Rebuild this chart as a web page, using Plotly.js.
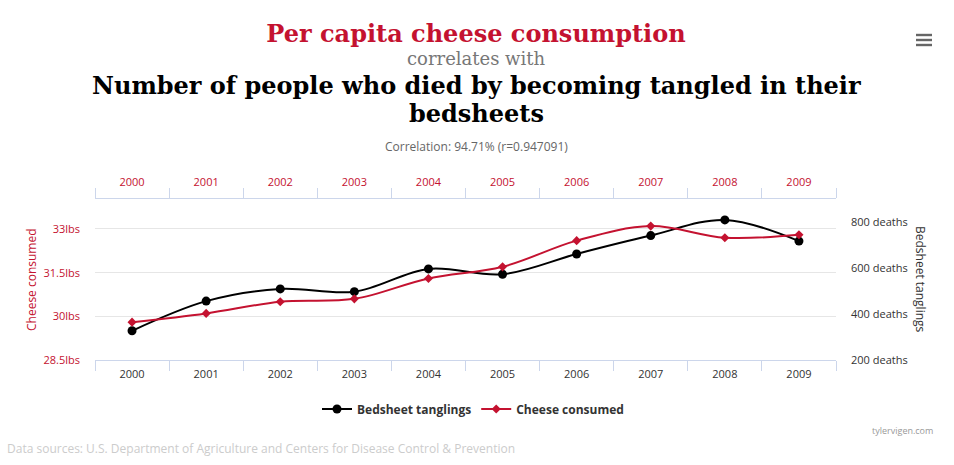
<!DOCTYPE html>
<html>
<head>
<meta charset="utf-8">
<script src="https://cdn.plot.ly/plotly-3.0.1.min.js"></script>
<style>
html,body{margin:0;padding:0;background:#ffffff;}
#chart{width:954px;height:465px;}
</style>
</head>
<body>
<div id="chart"></div>
<script>
var years = ["2000","2001","2002","2003","2004","2005","2006","2007","2008","2009"];
var bedsheetDeaths = [327, 456, 509, 497, 596, 573, 661, 741, 809, 717];
var cheeseLbs = [29.8, 30.1, 30.5, 30.6, 31.3, 31.7, 32.6, 33.1, 32.7, 32.8];
var leftTicks = [28.5, 30, 31.5, 33];
var leftTickText = ["28.5lbs", "30lbs", "31.5lbs", "33lbs"];
var rightTicks = [200, 400, 600, 800];
var rightTickText = ["200 deaths", "400 deaths", "600 deaths", "800 deaths"];

var RED = "#c41230";
var DARK = "#333333";
var AXIS = "#ccd6eb";
var FONT = "Open Sans, sans-serif";
var SERIF = "DejaVu Serif, serif";

var L = 95, R = 836, T = 199, B = 360;
function px(x){ return (x - L) / (R - L); }
function py(y){ return (B - y) / (B - T); }

var traces = [
  {
    name: "Bedsheet tanglings",
    x: years, y: bedsheetDeaths,
    xaxis: "x", yaxis: "y",
    type: "scatter", mode: "lines+markers",
    line: {color: "#000000", width: 2, shape: "spline", smoothing: 1},
    marker: {symbol: "circle", size: 9, color: "#000000"},
    hoverinfo: "skip"
  },
  {
    name: "Cheese consumed",
    x: years, y: cheeseLbs,
    xaxis: "x2", yaxis: "y2",
    type: "scatter", mode: "lines+markers",
    line: {color: RED, width: 2, shape: "spline", smoothing: 1},
    marker: {symbol: "diamond", size: 7, color: RED},
    hoverinfo: "skip"
  }
];

var xCommon = {
  type: "category", categoryarray: years, categoryorder: "array",
  range: [-0.5, 9.5], tickson: "boundaries",
  ticks: "outside", ticklen: 10, tickcolor: AXIS, tickwidth: 1,
  showline: true, linecolor: AXIS, linewidth: 1,
  showgrid: false, zeroline: false, fixedrange: true
};

var layout = {
  width: 954, height: 465,
  paper_bgcolor: "#ffffff", plot_bgcolor: "#ffffff",
  margin: {l: L, r: 954 - R, t: T, b: 465 - B, pad: 0},
  font: {family: FONT, color: DARK, size: 11},
  title: {
    text: "<b>Per capita cheese consumption</b>",
    font: {family: SERIF, size: 24, color: RED},
    x: px(476), xref: "paper", xanchor: "center",
    y: 1 - 34/465, yref: "container", yanchor: "middle"
  },
  showlegend: true,
  legend: {
    orientation: "h", x: px(473), xanchor: "center", y: py(409), yanchor: "middle",
    font: {family: FONT, size: 12, color: DARK, weight: "bold"},
    itemwidth: 30, bgcolor: "rgba(0,0,0,0)", traceorder: "normal"
  },
  xaxis: Object.assign({}, xCommon, {
    side: "bottom", ticklabelstandoff: 4, tickfont: {family: FONT, size: 11, color: DARK}
  }),
  xaxis2: Object.assign({}, xCommon, {
    side: "top", overlaying: "x", ticklabelstandoff: 8, tickfont: {family: FONT, size: 11, color: RED}
  }),
  yaxis: {
    side: "right",
    range: [200, 900], tickvals: rightTicks, ticktext: rightTickText,
    showgrid: false, zeroline: false, showline: false, ticks: "", ticklabelstandoff: 14,
    tickfont: {family: FONT, size: 11, color: DARK}, fixedrange: true
  },
  yaxis2: {
    overlaying: "y", side: "left",
    range: [28.5, 34.03], tickvals: leftTicks, ticktext: leftTickText,
    showgrid: true, gridcolor: "#e6e6e6", gridwidth: 1, zeroline: false,
    showline: false, ticks: "", ticklabelstandoff: 14,
    tickfont: {family: FONT, size: 11, color: RED}, fixedrange: true
  },
  annotations: [
    {text: "correlates with", xref: "paper", yref: "paper", x: px(476), y: py(58),
     xanchor: "center", yanchor: "middle", showarrow: false,
     font: {family: SERIF, size: 18, color: "#777777"}},
    {text: "<b>Number of people who died by becoming tangled in their</b>", xref: "paper", yref: "paper",
     x: px(476), y: py(85), xanchor: "center", yanchor: "middle", showarrow: false,
     font: {family: SERIF, size: 24, color: "#000000"}},
    {text: "<b>bedsheets</b>", xref: "paper", yref: "paper",
     x: px(476), y: py(113), xanchor: "center", yanchor: "middle", showarrow: false,
     font: {family: SERIF, size: 24, color: "#000000"}},
    {text: "Correlation: 94.71% (r=0.947091)", xref: "paper", yref: "paper",
     x: px(476), y: py(146), xanchor: "center", yanchor: "middle", showarrow: false,
     font: {family: FONT, size: 12, color: "#666666"}},
    {text: "Cheese consumed", xref: "paper", yref: "paper", x: px(31), y: py(280),
     xanchor: "center", yanchor: "middle", textangle: -90, showarrow: false,
     font: {family: FONT, size: 12, color: RED}},
    {text: "Bedsheet tanglings", xref: "paper", yref: "paper", x: px(921), y: py(279),
     xanchor: "center", yanchor: "middle", textangle: 90, showarrow: false,
     font: {family: FONT, size: 12, color: DARK}},
    {text: "tylervigen.com", xref: "paper", yref: "paper", x: px(935), y: py(430),
     xanchor: "right", yanchor: "middle", showarrow: false,
     font: {family: FONT, size: 9, color: "#999999"}},
    {text: "Data sources: U.S. Department of Agriculture and Centers for Disease Control &amp; Prevention",
     xref: "paper", yref: "paper", x: px(5), y: py(448),
     xanchor: "left", yanchor: "middle", showarrow: false,
     font: {family: FONT, size: 12, color: "#cccccc"}}
  ],
  shapes: [35, 40, 45].map(function(yy){
    return {type: "rect", xref: "paper", yref: "paper",
      x0: px(916), x1: px(932), y0: py(yy - 1.2), y1: py(yy + 1.2),
      fillcolor: "#666666", line: {width: 0}};
  })
};

Plotly.newPlot("chart", traces, layout, {displayModeBar: false, staticPlot: true});
</script>
</body>
</html>
